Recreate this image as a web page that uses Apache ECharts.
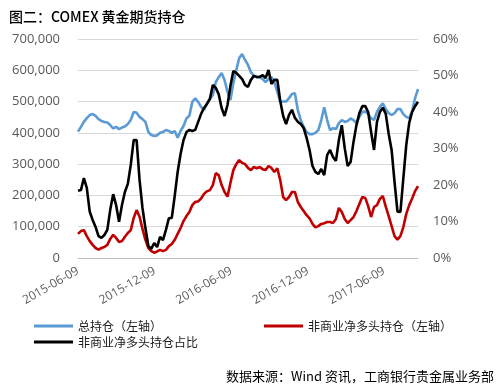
<!DOCTYPE html>
<html>
<head>
<meta charset="utf-8">
<script src="https://cdn.jsdelivr.net/npm/echarts@6/dist/echarts.min.js"></script>
<style>html,body{margin:0;padding:0;background:#fff}#c{width:500px;height:392px}</style>
</head>
<body>
<div id="c"></div>
<script>
// Weekly report dates start here (one point per week)
const startDate = '2015-06-09';
const xTickLabels = ['2015-06-09', '2015-12-09', '2016-06-09', '2016-12-09', '2017-06-09'];
const leftTicks = [0, 100000, 200000, 300000, 400000, 500000, 600000, 700000];
const rightTicks = ['0%', '10%', '20%', '30%', '40%', '50%', '60%'];

// 总持仓 (thousand contracts)
const totalOI = [404,419,435,447,457,460,454,444,438,435,433,425,414,419,412,417,420,428,441,467,
  464,451,444,435,403,393,390,392,400,403,409,406,400,406,384,406,422,446,455,499,
  510,499,483,473,495,508,521,562,578,591,569,531,505,559,601,639,652,633,617,594,
  582,578,578,572,562,572,578,562,531,500,500,500,511,524,527,473,441,419,403,396,
  396,400,409,441,482,441,409,415,412,431,441,435,438,446,441,431,451,467,468,460,
  447,441,467,483,494,476,463,457,463,476,476,460,451,447,470,511,540];
// 非商业净多头持仓 (thousand contracts)
const netLong = [77,86,89,70,54,42,32,27,32,35,42,61,74,64,51,54,68,80,89,128,
  153,132,93,58,32,22,17,21,26,22,26,38,45,58,77,96,118,134,147,169,
  179,181,190,205,213,217,233,271,265,233,211,196,240,281,300,313,304,300,288,281,
  291,287,291,284,281,294,288,275,287,249,195,185,195,211,211,179,163,150,137,127,
  109,98,102,109,111,115,115,112,125,160,147,125,112,121,131,150,173,195,192,166,
  131,163,169,189,198,164,134,102,70,59,70,99,141,169,190,214,230];
// 非商业净多头持仓占比 (%)
const netLongShare = [18.4,18.6,21.9,19.2,12.7,10.4,8.5,6.0,5.5,6.3,7.7,13.2,17.5,14.5,9.9,14.5,18.1,20.3,25.5,32.3,
  32.3,21.4,13.7,8.2,3.3,2.5,4.1,3.0,5.8,4.9,7.7,10.9,11.0,17.0,23.6,28.5,32.3,34.5,35.1,34.8,
  35.1,37.3,39.5,41.1,42.2,43.6,47.4,46.6,44.9,41.1,38.9,41.9,47.1,51.2,50.7,49.9,49.0,47.4,46.9,48.8,
  49.9,49.6,49.6,50.1,49.3,51.5,47.7,48.8,48.8,43.0,38.9,36.7,39.2,40.6,38.4,37.3,36.7,35.6,32.9,29.6,
  25.2,23.6,23.0,24.4,22.7,28.2,29.6,27.7,26.6,32.3,36.4,30.1,25.2,26.3,31.8,36.4,39.7,41.6,41.6,40.0,
  34.5,29.6,37.3,40.0,41.2,39.5,34.0,29.6,20.8,12.7,12.6,21.9,31.0,37.0,40.0,41.6,42.8];

const DAY = 86400000;
const t0 = Date.parse(startDate + 'T00:00:00Z');
const dates = totalOI.map((_, i) => t0 + i * 7 * DAY);
const lastDate = dates[dates.length - 1];
const fmtDate = v => { const d = new Date(Math.round(v / DAY) * DAY); const p = n => String(n).padStart(2, '0');
  return d.getUTCFullYear() + '-' + p(d.getUTCMonth() + 1) + '-' + p(d.getUTCDate()); };
const xTickValues = xTickLabels.map(s => Date.parse(s + 'T00:00:00Z'));

const chart = echarts.init(document.getElementById('c'), null, {renderer: 'canvas'});
const labelFont = '"Open Sans", "Liberation Sans", sans-serif';
const cjk = '"Noto Sans CJK SC", sans-serif';

chart.setOption({
  animation: false,
  backgroundColor: '#ffffff',
  title: {
    text: '图二：COMEX 黄金期货持仓',
    left: 4, top: 5,
    textStyle: {fontFamily: cjk, fontSize: 14, fontWeight: 500, color: '#000'}
  },
  grid: {left: 78, right: 82, top: 39, bottom: 134, containLabel: false},
  legend: [
    {data: ['总持仓（左轴）'], left: 29, top: 315, icon: 'rect', itemWidth: 39, itemHeight: 3, itemGap: 4,
      textStyle: {fontFamily: cjk, fontSize: 12, color: '#1a1a1a'}},
    {data: ['非商业净多头持仓（左轴）'], left: 259, top: 315, icon: 'rect', itemWidth: 39, itemHeight: 3,
      textStyle: {fontFamily: cjk, fontSize: 12, color: '#1a1a1a'}},
    {data: ['非商业净多头持仓占比'], left: 29, top: 331, icon: 'rect', itemWidth: 39, itemHeight: 3,
      textStyle: {fontFamily: cjk, fontSize: 12, color: '#1a1a1a'}}
  ],
  xAxis: {
    type: 'value', min: t0, max: lastDate,
    axisLine: {lineStyle: {color: '#bfbfbf', width: 1}},
    axisTick: {show: false},
    splitLine: {show: false},
    axisLabel: {customValues: xTickValues, formatter: v => fmtDate(v), rotate: 30,
      fontFamily: labelFont, fontSize: 12, color: '#595959', margin: 12, hideOverlap: false,
      showMinLabel: true, showMaxLabel: true}
  },
  yAxis: [
    {type: 'value', min: leftTicks[0], max: leftTicks[leftTicks.length - 1], interval: leftTicks[1] - leftTicks[0],
      axisLine: {show: false}, axisTick: {show: false},
      splitLine: {lineStyle: {color: '#d9d9d9', width: 1}},
      axisLabel: {formatter: v => v.toLocaleString('en-US'), fontFamily: labelFont, fontSize: 13, color: '#595959', margin: 18}},
    {type: 'value', min: 0, max: 60, interval: 10, position: 'right',
      axisLine: {show: false}, axisTick: {show: false}, splitLine: {show: false},
      axisLabel: {formatter: v => rightTicks[Math.round(v / 10)], fontFamily: labelFont, fontSize: 13, color: '#595959', margin: 15}}
  ],
  series: [
    {name: '总持仓（左轴）', type: 'line', yAxisIndex: 0, showSymbol: false, symbol: 'none',
      data: dates.map((d, i) => [d, totalOI[i] * 1000]),
      lineStyle: {color: '#5b9bd5', width: 2.6}, itemStyle: {color: '#5b9bd5'}},
    {name: '非商业净多头持仓（左轴）', type: 'line', yAxisIndex: 0, showSymbol: false, symbol: 'none',
      data: dates.map((d, i) => [d, netLong[i] * 1000]),
      lineStyle: {color: '#c00000', width: 2.6}, itemStyle: {color: '#c00000'}},
    {name: '非商业净多头持仓占比', type: 'line', yAxisIndex: 1, showSymbol: false, symbol: 'none',
      data: dates.map((d, i) => [d, netLongShare[i]]),
      lineStyle: {color: '#000000', width: 2.6}, itemStyle: {color: '#000000'}}
  ],
  graphic: [
    {type: 'text', right: 6, top: 370,
      style: {text: '数据来源：Wind 资讯，工商银行贵金属业务部', fontFamily: cjk, fontSize: 13, fill: '#000'}}
  ]
});
</script>
</body>
</html>
